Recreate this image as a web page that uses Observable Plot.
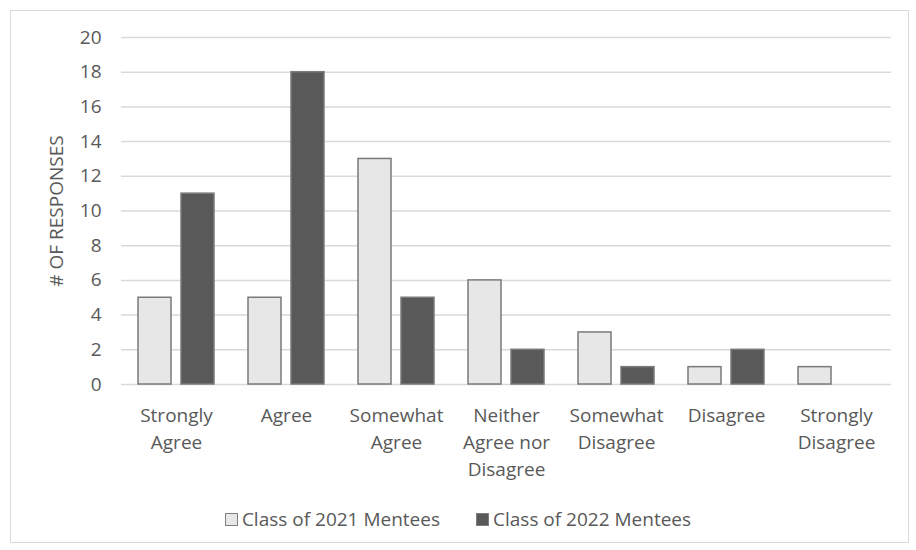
<!DOCTYPE html>
<html>
<head>
<meta charset="utf-8">
<script src="https://cdn.jsdelivr.net/npm/d3@7"></script>
<script src="https://cdn.jsdelivr.net/npm/@observablehq/plot@0.6"></script>
<style>
  html, body { margin: 0; padding: 0; background: #fff; }
  body { width: 916px; height: 550px; position: relative; overflow: hidden; font-family: "Open Sans", sans-serif; }
  #frame { position: absolute; left: 10px; top: 10px; width: 899px; height: 533px; border: 1px solid #d9d9d9; box-sizing: border-box; }
  #chart { position: absolute; left: 0; top: 0; }
  #legend { position: absolute; left: 0; top: 506px; width: 916px; display: flex; justify-content: center; gap: 0; font-size: 19px; color: #595959; }
  .item { display: flex; align-items: center; margin: 0 18px; }
  .sw { width: 11px; height: 11px; border: 1.5px solid #7f7f7f; margin-right: 4px; }
</style>
</head>
<body>
<div id="frame"></div>
<div id="chart"></div>
<div id="legend"></div>
<script>
const categories = ["Strongly Agree","Agree","Somewhat Agree","Neither Agree nor Disagree","Somewhat Disagree","Disagree","Strongly Disagree"];
const tickLabels = ["Strongly\nAgree","Agree","Somewhat\nAgree","Neither\nAgree nor\nDisagree","Somewhat\nDisagree","Disagree","Strongly\nDisagree"];
const seriesNames = ["Class of 2021 Mentees","Class of 2022 Mentees"];
const class2021 = [5,5,13,6,3,1,1];
const class2022 = [11,18,5,2,1,2,0];
const yTicks = [0,2,4,6,8,10,12,14,16,18,20];
const colors = ["#e7e7e7","#595959"];

const data = [];
categories.forEach((c,i) => {
  data.push({category: c, series: seriesNames[0], value: class2021[i]});
  data.push({category: c, series: seriesNames[1], value: class2022[i]});
});
const labelOf = Object.fromEntries(categories.map((c,i) => [c, tickLabels[i]]));

const plot = Plot.plot({
  width: 916,
  height: 490,
  marginLeft: 120,
  marginRight: 24,
  marginTop: 37,
  marginBottom: 106,
  style: {fontFamily: "Open Sans, sans-serif", fontSize: "19px", color: "#595959", background: "transparent"},
  fx: {domain: categories, padding: 0},
  x: {domain: seriesNames, paddingInner: 0.227, paddingOuter: 0.367, axis: null},
  y: {domain: [0,20]},
  color: {domain: seriesNames, range: colors},
  marks: [
    Plot.gridY(yTicks, {stroke: "#d9d9d9", strokeOpacity: 1, strokeWidth: 1.5}),
    Plot.barY(data, {
      fx: "category", x: "series", y: "value",
      fill: "series", stroke: "#7a7a7a", strokeWidth: 1.5,
      filter: d => d.value > 0
    }),
    Plot.axisY({ticks: yTicks, tickSize: 0, tickPadding: 20, fill: "#595959",
      label: "# OF RESPONSES", labelAnchor: "center", labelArrow: "none", labelOffset: 72}),
    Plot.axisFx({anchor: "bottom", tickSize: 0, tickPadding: 18, fill: "#595959", label: null,
      tickFormat: d => labelOf[d], lineHeight: 1.42})
  ]
});
document.getElementById("chart").appendChild(plot);

const legend = document.getElementById("legend");
seriesNames.forEach((s,i) => {
  const it = document.createElement("div");
  it.className = "item";
  const sw = document.createElement("div");
  sw.className = "sw";
  sw.style.background = colors[i];
  const t = document.createElement("span");
  t.textContent = s;
  it.appendChild(sw); it.appendChild(t);
  legend.appendChild(it);
});
</script>
</body>
</html>
